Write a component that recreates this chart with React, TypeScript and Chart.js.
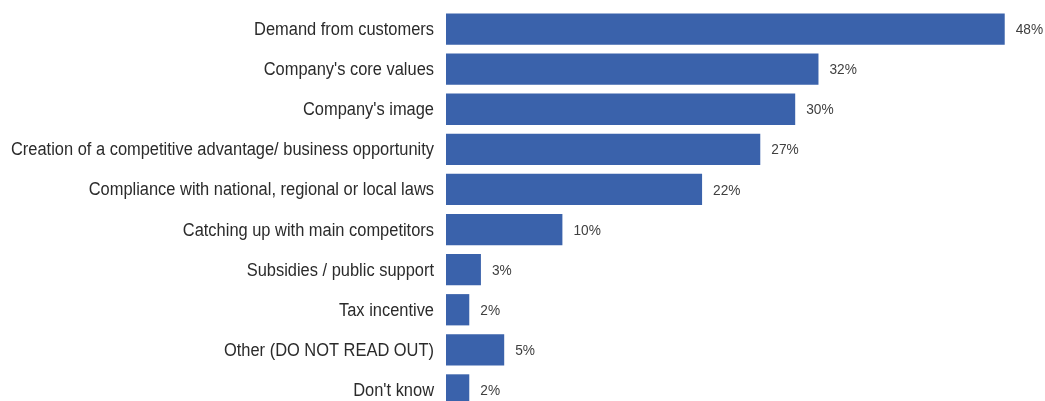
import React, { useEffect, useRef } from "react";
import { Chart, registerables } from "chart.js";

Chart.register(...registerables);

const categories = [
  "Demand from customers",
  "Company's core values",
  "Company's image",
  "Creation of a competitive advantage/ business opportunity",
  "Compliance with national, regional or local laws",
  "Catching up with main competitors",
  "Subsidies / public support",
  "Tax incentive",
  "Other (DO NOT READ OUT)",
  "Don't know",
];
const values = [48, 32, 30, 27, 22, 10, 3, 2, 5, 2];

const FONT = "'Liberation Sans', Arial, sans-serif";
const LABEL_SIZE = 18;
const VALUE_SIZE = 15;
const LABEL_RIGHT = 434;
const WIDEST_TARGET = 423;

// Condensed text drawing (reference uses a narrow face)
const labelsPlugin = {
  id: "labelsPlugin",
  afterDatasetsDraw(chart: any) {
    const ctx = chart.ctx;
    const yScale = chart.scales.y;
    ctx.save();
    ctx.font = `${LABEL_SIZE}px ${FONT}`;
    let widest = 0;
    categories.forEach((c) => {
      widest = Math.max(widest, ctx.measureText(c).width);
    });
    const sx = WIDEST_TARGET / widest;
    ctx.fillStyle = "#2b2b2b";
    ctx.textAlign = "right";
    ctx.textBaseline = "middle";
    categories.forEach((c, i) => {
      const y = yScale.getPixelForTick(i);
      ctx.save();
      ctx.translate(LABEL_RIGHT, y + 1);
      ctx.scale(sx, 1);
      ctx.fillText(c, 0, 0);
      ctx.restore();
    });

    const meta = chart.getDatasetMeta(0);
    ctx.font = `${VALUE_SIZE}px ${FONT}`;
    ctx.fillStyle = "#404040";
    ctx.textAlign = "left";
    meta.data.forEach((bar: any, i: number) => {
      ctx.save();
      ctx.translate(bar.x + 11, bar.y + 1);
      ctx.scale(sx, 1);
      ctx.fillText(`${values[i]}%`, 0, 0);
      ctx.restore();
    });
    ctx.restore();
  },
};

export default function App() {
  const ref = useRef<HTMLCanvasElement>(null);
  useEffect(() => {
    if (!ref.current) return;
    const chart = new Chart(ref.current, {
      type: "bar",
      data: {
        labels: categories,
        datasets: [
          {
            data: values,
            backgroundColor: "#3A62AB",
            borderWidth: 0,
            barPercentage: 0.78,
            categoryPercentage: 1,
          },
        ],
      },
      options: {
        indexAxis: "y",
        animation: false,
        responsive: false,
        maintainAspectRatio: false,
        layout: { padding: { top: 9, right: 17, bottom: 0, left: 0 } },
        plugins: { legend: { display: false }, tooltip: { enabled: false } },
        scales: {
          x: { display: false, min: 0, max: 50 },
          y: {
            grid: { display: false, drawTicks: false },
            border: { display: false },
            ticks: { display: false },
            afterFit(scale: any) {
              scale.width = 446;
              scale.paddingTop = 0;
              scale.paddingBottom = 0;
            },
          },
        },
      },
      plugins: [labelsPlugin],
    });
    return () => chart.destroy();
  }, []);
  return (
    <div style={{ position: "absolute", left: 0, top: 0, width: 1045, height: 410, background: "#fff" }}>
      <canvas ref={ref} width={1045} height={410} style={{ width: 1045, height: 410 }} />
    </div>
  );
}
